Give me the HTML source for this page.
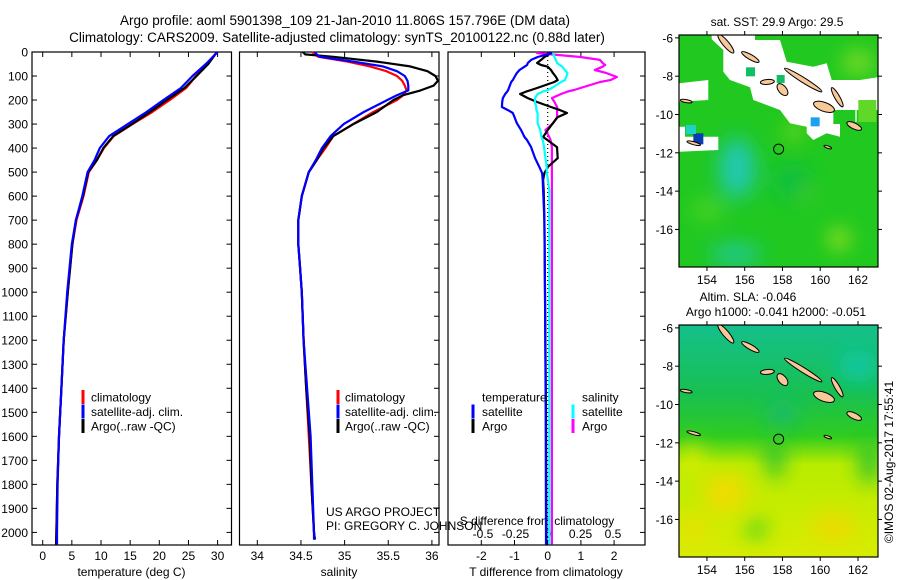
<!DOCTYPE html>
<html><head><meta charset="utf-8"><style>
html,body{margin:0;padding:0;background:#fff;}
svg{display:block;font-family:"Liberation Sans",sans-serif;}
text{fill:#000;}
</style></head><body>
<svg id="fig" width="900" height="580" viewBox="0 0 900 580">
<text x="345" y="25" font-size="13.5" text-anchor="middle">Argo profile: aoml 5901398_109 21-Jan-2010 11.806S 157.796E (DM data)</text>
<text x="337" y="42" font-size="13.5" text-anchor="middle">Climatology: CARS2009. Satellite-adjusted climatology: synTS_20100122.nc (0.88d later)</text>
<g id="axes"></g>
<g id="maps"></g>
<text transform="translate(893,462) rotate(-90)" font-size="12" text-anchor="middle">©IMOS 02-Aug-2017 17:55:41</text>
</svg>
<script>
// ---------- data ----------
const tDepth = [0,50,100,150,200,250,300,350,400,450,500,600,700,800,900,1000,1200,1400,1600,1800,2000,2050];
const tArgo  = [29.9,28.4,26.4,24.3,21.3,18.4,15.3,12.1,10.4,9.3,7.8,6.9,5.7,5.1,4.7,4.3,3.6,3.2,2.8,2.5,2.35,2.3];
const tClim  = [29.9,28.2,26.3,24.6,21.8,18.8,15.4,12.2,10.5,9.3,7.9,7.0,5.8,5.1,4.7,4.3,3.6,3.2,2.8,2.5,2.35,2.3];
const tSat   = [30.0,28.0,25.7,23.7,20.7,17.8,14.6,11.4,9.8,8.9,7.7,6.8,5.7,5.0,4.6,4.2,3.6,3.2,2.8,2.55,2.45,2.45];
const sDepth = [0,10,20,40,60,80,100,120,140,160,180,200,250,300,350,400,450,500,600,700,800,900,1000,1200,1400,1600,1800,2000,2030];
const sArgo  = [34.52,34.55,34.87,35.37,35.75,35.95,36.04,36.07,36.02,35.87,35.67,35.56,35.37,35.10,34.87,34.76,34.68,34.59,34.51,34.47,34.47,34.49,34.51,34.53,34.56,34.60,34.62,34.65,34.66];
const sClim  = [34.63,34.66,34.70,35.03,35.29,35.48,35.60,35.66,35.69,35.71,35.67,35.60,35.33,35.10,34.87,34.78,34.68,34.59,34.51,34.47,34.47,34.49,34.51,34.53,34.56,34.59,34.62,34.65,34.66];
const sSat   = [34.66,34.68,34.72,35.10,35.44,35.60,35.69,35.72,35.73,35.73,35.60,35.49,35.22,34.99,34.84,34.74,34.67,34.59,34.51,34.47,34.47,34.49,34.51,34.53,34.57,34.61,34.63,34.65,34.65];
const dDepth = [4,21,33,46,54,61,75,88,104,117,125,150,158,165,175,192,208,229,242,254,271,296,325,354,367,396,442,479,504,533,575,700,1000,1500,2000,2050];
const dTsat  = [0.13,-0.3,-0.5,-0.6,-0.62,-0.7,-0.85,-0.93,-1.0,-1.05,-1.1,-1.17,-1.19,-1.22,-1.28,-1.35,-1.37,-1.38,-1.2,-1.05,-1.0,-0.93,-0.8,-0.7,-0.62,-0.5,-0.38,-0.25,-0.17,-0.15,-0.14,-0.1,-0.08,-0.06,-0.05,-0.05];
const dTargo = [0.1,-0.1,-0.2,-0.32,-0.2,0.0,0.1,0.16,0.25,0.3,0.2,-0.32,-0.5,-0.65,-0.83,-0.6,-0.32,0.1,0.37,0.58,0.3,0.16,0.0,-0.14,0.0,0.28,0.3,0.0,-0.1,-0.14,-0.12,-0.1,-0.08,-0.05,-0.04,-0.04];
const dSsat  = [0.04,0.05,0.06,0.07,0.09,0.11,0.13,0.15,0.14,0.13,0.1,0.03,0.0,-0.04,-0.08,-0.1,-0.1,-0.09,-0.09,-0.08,-0.08,-0.08,-0.06,-0.05,-0.04,-0.03,-0.02,-0.01,-0.01,0.0,0.01,0.01,0.01,0.01,0.01,0.01];
const dSargo = [-0.09,0.25,0.4,0.42,0.44,0.42,0.36,0.45,0.53,0.48,0.4,0.25,0.2,0.15,0.1,0.03,0.05,0.07,0.07,0.07,0.07,0.04,-0.02,0.01,0.02,0.03,0.03,0.03,0.03,0.03,0.03,0.03,0.03,0.03,0.03,0.03];
const depthTicks = [0,100,200,300,400,500,600,700,800,900,1000,1100,1200,1300,1400,1500,1600,1700,1800,1900,2000];
const tTicks = [0,5,10,15,20,25,30];
const sTicks = [34,34.5,35,35.5,36];
const sTickLabels = ["34","34.5","35","35.5","36"];
const tdTicks = [-2,-1,0,1,2];
const sdTicks = [-0.5,-0.25,0,0.25,0.5];
const sdTickLabels = ["-0.5","-0.25","0","0.25","0.5"];
const lonTicks = [154,156,158,160,162];
const latTicks = [-6,-8,-10,-12,-14,-16];
const argoLon = [157.796];
const argoLat = [-11.806];

// ---------- helpers ----------
const NS = "http://www.w3.org/2000/svg";
const axesG = document.getElementById('axes');
const mapsG = document.getElementById('maps');
function mk(tag, attrs, parent){const e=document.createElementNS(NS,tag);for(const k in attrs)e.setAttribute(k,attrs[k]);(parent||axesG).appendChild(e);return e;}
const TOP=52, BOT=545;
const yD = d => 52 + d*0.2402;
const xT = t => 42.7 + t*5.83;
const xS = s => 257.3 + (s-34)*87.3;
const xTD = v => 547.7 + v*33.2;
const xSD = v => 548 + v*130;

function frame(x0,x1,name){
  const r=mk('rect',{x:x0,y:TOP,width:x1-x0,height:BOT-TOP,fill:'none',stroke:'#000','stroke-width':1.2});
  
  
}
function line(xs,ds,xf,col,name){
  let d='';
  for(let i=0;i<xs.length;i++){d+=(i?'L':'M')+xf(xs[i]).toFixed(1)+','+yD(Math.min(ds[i],2055)).toFixed(1);}
  const p=mk('path',{d:d,fill:'none',stroke:col,'stroke-width':2.2,'stroke-linejoin':'round'});
  
  
}
function txt(x,y,s,size,anchor,name,parent){
  const t=mk('text',{x:x,y:y,'font-size':size,'text-anchor':anchor||'start'},parent);
  t.textContent=s;
  
  
  return t;
}
function legMark(x,y,col,name){
  const r=mk('rect',{x:x-1.5,y:y-7,width:3,height:14,fill:col});
  
  
}

// ---------- panels ----------
frame(32,231.5,'temperature-panel');
frame(239.5,439,'salinity-panel');
frame(448,645,'difference-panel');

depthTicks.forEach(d=>{
  const y=yD(d);
  txt(28,y+4.5,String(d),12,'end','depth-tick-label');
  mk('line',{x1:32,y1:y,x2:37,y2:y,stroke:'#000'});
  mk('line',{x1:231.5,y1:y,x2:226.5,y2:y,stroke:'#000'});
  mk('line',{x1:439,y1:y,x2:434,y2:y,stroke:'#000'});
  mk('line',{x1:645,y1:y,x2:640,y2:y,stroke:'#000'});
});
tTicks.forEach(t=>{const x=xT(t);txt(x,560,String(t),12,'middle','temperature-tick-label');
  mk('line',{x1:x,y1:BOT,x2:x,y2:BOT-5,stroke:'#000'});mk('line',{x1:x,y1:TOP,x2:x,y2:TOP+5,stroke:'#000'});});
sTicks.forEach((s,i)=>{const x=xS(s);txt(x,560,sTickLabels[i],12,'middle','salinity-tick-label');
  mk('line',{x1:x,y1:BOT,x2:x,y2:BOT-5,stroke:'#000'});mk('line',{x1:x,y1:TOP,x2:x,y2:TOP+5,stroke:'#000'});});
tdTicks.forEach(v=>{const x=xTD(v);txt(x,560,String(v),12,'middle','t-diff-tick-label');
  mk('line',{x1:x,y1:BOT,x2:x,y2:BOT-5,stroke:'#000'});mk('line',{x1:x,y1:TOP,x2:x,y2:TOP+5,stroke:'#000'});});
sdTicks.forEach((v,i)=>{txt(xSD(v),538,sdTickLabels[i],12,'middle','s-diff-tick-label');});
txt(131.5,576,'temperature (deg C)',12,'middle','temperature-axis-title');
txt(339,576,'salinity',12,'middle','salinity-axis-title');
txt(546,576,'T difference from climatology',12,'middle','t-diff-axis-title');
txt(537,525,'S difference from climatology',12,'middle','s-diff-axis-title');
txt(326,516,'US ARGO PROJECT',12,'start','project-label');
txt(326,530,'PI: GREGORY C. JOHNSON',12,'start','pi-label');

mk('line',{x1:547.7,y1:TOP,x2:547.7,y2:BOT,stroke:'#000','stroke-dasharray':'1,3','stroke-width':1.2});

line(tClim,tDepth,xT,'#ff0000','temp-climatology-line');
line(tArgo,tDepth,xT,'#000000','temp-argo-line');
line(tSat,tDepth,xT,'#0000ff','temp-satellite-line');
line(sClim,sDepth,xS,'#ff0000','sal-climatology-line');
line(sArgo,sDepth,xS,'#000000','sal-argo-line');
line(sSat,sDepth,xS,'#0000ff','sal-satellite-line');
line(dSargo,dDepth,xSD,'#ff00ff','s-diff-argo-line');
line(dTargo,dDepth,xTD,'#000000','t-diff-argo-line');
line(dSsat,dDepth,xSD,'#00ffff','s-diff-satellite-line');
line(dTsat,dDepth,xTD,'#0000ff','t-diff-satellite-line');

[['climatology','#ff0000'],['satellite-adj. clim.','#0000ff'],['Argo(..raw -QC)','#000000']].forEach((l,i)=>{
  const y=397+i*14.5;
  legMark(83,y,l[1],'temp-legend-marker');txt(91,y+4.5,l[0],12,'start','temp-legend-entry');
  legMark(338,y,l[1],'sal-legend-marker');txt(345,y+4.5,l[0],12,'start','sal-legend-entry');
});
txt(482,401.5,'temperature',12,'start','diff-legend-temperature-header');
txt(582,401.5,'salinity',12,'start','diff-legend-salinity-header');
legMark(473,411.5,'#0000ff','diff-legend-marker');txt(482,416,'satellite',12,'start','diff-legend-t-satellite');
legMark(473,426,'#000000','diff-legend-marker');txt(482,430.5,'Argo',12,'start','diff-legend-t-argo');
legMark(573,411.5,'#00ffff','diff-legend-marker');txt(582,416,'satellite',12,'start','diff-legend-s-satellite');
legMark(573,426,'#ff00ff','diff-legend-marker');txt(582,430.5,'Argo',12,'start','diff-legend-s-argo');

// ---------- maps ----------
const MX0=679, MX1=878, LON0=152.52, LON1=163.06, LAT0=-5.85, LAT1=-17.96;
const defs=mk('defs',{},mapsG);
const f=mk('filter',{id:'blur',x:'-50%',y:'-50%',width:'200%',height:'200%'},defs);
mk('feGaussianBlur',{stdDeviation:10},f);
function zp(arr){return arr.map(p=>(640+p[0]/3).toFixed(1)+','+(p[1]/3).toFixed(1)).join(' ');}
function map(Y0,Y1,kind){
  const lx=l=>MX0+(l-LON0)/(LON1-LON0)*(MX1-MX0);
  const ly=t=>Y0+(LAT0-t)/(LAT0-LAT1)*(Y1-Y0);
  const g=mk('g',{},mapsG);
  
  
  const cp=mk('clipPath',{id:'cp'+kind},defs);
  mk('rect',{x:MX0,y:Y0,width:MX1-MX0,height:Y1-Y0},cp);
  const c=mk('g',{'clip-path':'url(#cp'+kind+')'},g);
  if(kind==='sst'){
    mk('rect',{x:MX0,y:Y0,width:MX1-MX0,height:Y1-Y0,fill:'#20c820'},c);
    const b=mk('g',{filter:'url(#blur)'},c);
    mk('ellipse',{cx:lx(155.6),cy:ly(-12.8),rx:18,ry:30,fill:'#22c8b4'},b);
    mk('ellipse',{cx:lx(155.5),cy:ly(-17.3),rx:26,ry:9,fill:'#22c8a8'},b);
    mk('ellipse',{cx:lx(161),cy:ly(-16.5),rx:10,ry:10,fill:'#b4e61e'},b);
    mk('ellipse',{cx:lx(159),cy:ly(-14),rx:10,ry:7,fill:'#a0e61e'},b);
    mk('ellipse',{cx:lx(162),cy:ly(-7.3),rx:16,ry:12,fill:'#80dc28'},b);
    mk('ellipse',{cx:lx(154),cy:ly(-15),rx:16,ry:10,fill:'#50d428'},b);
    mk('ellipse',{cx:lx(158.6),cy:ly(-10.9),rx:9,ry:5,fill:'#c8e61e'},b);
    mk('ellipse',{cx:lx(158.5),cy:ly(-13.5),rx:20,ry:18,fill:'#10c040'},b);
    // white (no data) regions, in zoom coordinates
    mk('polygon',{points:zp([[215,105],[345,105],[345,120],[420,120],[440,185],[520,200],[560,190],[575,240],[660,240],[713,232],[713,330],[650,330],[650,365],[600,370],[600,410],[560,400],[520,420],[500,400],[500,380],[450,370],[420,330],[340,300],[330,262],[270,240],[250,215],[250,150],[215,118]]),fill:'#fff'},c);
    mk('polygon',{points:zp([[118,250],[205,240],[205,300],[118,305]]),fill:'#fff'},c);
    mk('polygon',{points:zp([[118,380],[135,380],[135,410],[235,410],[235,450],[118,455]]),fill:'#fff'},c);
    mk('rect',{x:640+580/3,y:330/3,width:22,height:14,fill:'#20c820'},c);
    mk('rect',{x:640+655/3,y:300/3,width:18,height:22,fill:'#60d828'},c);
    mk('rect',{x:640+160/3,y:400/3,width:10,height:11,fill:'#0a3cb4'},c);
    mk('rect',{x:640+138/3,y:375/3,width:10,height:9,fill:'#1ed2c8'},c);
    mk('rect',{x:640+512/3,y:352/3,width:9,height:9,fill:'#1ea0f0'},c);
    mk('rect',{x:640+318/3,y:202/3,width:9,height:9,fill:'#10be64'},c);
    mk('rect',{x:640+410/3,y:225/3,width:8,height:8,fill:'#10be64'},c);
  } else {
    const gr=mk('linearGradient',{id:'slag',x1:0,y1:0,x2:0,y2:1},defs);
    mk('stop',{offset:'0',  'stop-color':'#14c08c'},gr);
    mk('stop',{offset:'0.3','stop-color':'#18c050'},gr);
    mk('stop',{offset:'0.48','stop-color':'#30cc20'},gr);
    mk('stop',{offset:'0.6','stop-color':'#b8ec00'},gr);
    mk('stop',{offset:'1',  'stop-color':'#d8ec00'},gr);
    mk('rect',{x:MX0,y:Y0,width:MX1-MX0,height:Y1-Y0,fill:'url(#slag)'},c);
    const b=mk('g',{filter:'url(#blur)'},c);
    mk('ellipse',{cx:lx(162),cy:ly(-8),rx:20,ry:16,fill:'#10c8a0'},b);
    mk('ellipse',{cx:lx(158),cy:ly(-10.5),rx:16,ry:10,fill:'#14b878'},b);
    mk('ellipse',{cx:lx(155),cy:ly(-14.6),rx:22,ry:20,fill:'#f0dc00'},b);
    mk('ellipse',{cx:lx(160.7),cy:ly(-16.4),rx:22,ry:13,fill:'#f0d800'},b);
    mk('ellipse',{cx:lx(153.3),cy:ly(-16.5),rx:14,ry:14,fill:'#e8e000'},b);
    mk('ellipse',{cx:lx(153.2),cy:ly(-13),rx:10,ry:18,fill:'#d8ec00'},b);
    mk('ellipse',{cx:lx(156.6),cy:ly(-16.5),rx:10,ry:9,fill:'#30d020'},b);
    mk('ellipse',{cx:lx(157.6),cy:ly(-12.8),rx:9,ry:20,fill:'#20c030'},b);
    mk('ellipse',{cx:lx(162.6),cy:ly(-13),rx:10,ry:22,fill:'#20c030'},b);
  }
  const isl=[[155.0,-6.3,12,3,50],[156.3,-7.0,10,2.5,30],[159.1,-8.2,22,2.5,32],[157.2,-8.3,2.5,7,85],[158.0,-8.7,7,4,50],[160.2,-9.6,11,4.5,20],[160.9,-9.1,11,2.5,60],[161.8,-10.6,8,3,25],[152.9,-9.3,6,1.5,10],[153.3,-11.5,7,1.5,15],[160.4,-11.7,4,1.2,20]];
  isl.forEach(p=>{
    const e=mk('ellipse',{cx:lx(p[0]),cy:ly(p[1]),rx:p[2],ry:p[3],fill:'#f8c898',stroke:'#000','stroke-width':1,transform:'rotate('+p[4]+' '+lx(p[0])+' '+ly(p[1])+')'},c);
    
    
  });
  argoLon.forEach((lo,i)=>{
    const m=mk('circle',{cx:lx(lo),cy:ly(argoLat[i]),r:5,fill:'none',stroke:'#000','stroke-width':1},g);
    
    
  });
  mk('rect',{x:MX0,y:Y0,width:MX1-MX0,height:Y1-Y0,fill:'none',stroke:'#000','stroke-width':1.2},g);
  lonTicks.forEach(l=>{const x=lx(l);
    mk('line',{x1:x,y1:Y0,x2:x,y2:Y0-4,stroke:'#000'},g);mk('line',{x1:x,y1:Y1,x2:x,y2:Y1+4,stroke:'#000'},g);
    txt(x,Y1+17,String(l),12,'middle',kind+'-lon-tick-label',g);});
  latTicks.forEach(t=>{const y=ly(t);
    mk('line',{x1:MX0,y1:y,x2:MX0-4,y2:y,stroke:'#000'},g);mk('line',{x1:MX1,y1:y,x2:MX1+4,y2:y,stroke:'#000'},g);
    txt(MX0-6,y+4.5,String(t),12,'end',kind+'-lat-tick-label',g);});
}
map(35,267,'sst');
map(325,557,'sla');
txt(777,26,'sat. SST: 29.9 Argo: 29.5',12,'middle','sst-map-title',mapsG);
txt(748,301,'Altim. SLA: -0.046',12,'middle','sla-map-title',mapsG);
txt(776,316,'Argo h1000: -0.041 h2000: -0.051',12,'middle','sla-map-subtitle',mapsG);
</script>
</body></html>
